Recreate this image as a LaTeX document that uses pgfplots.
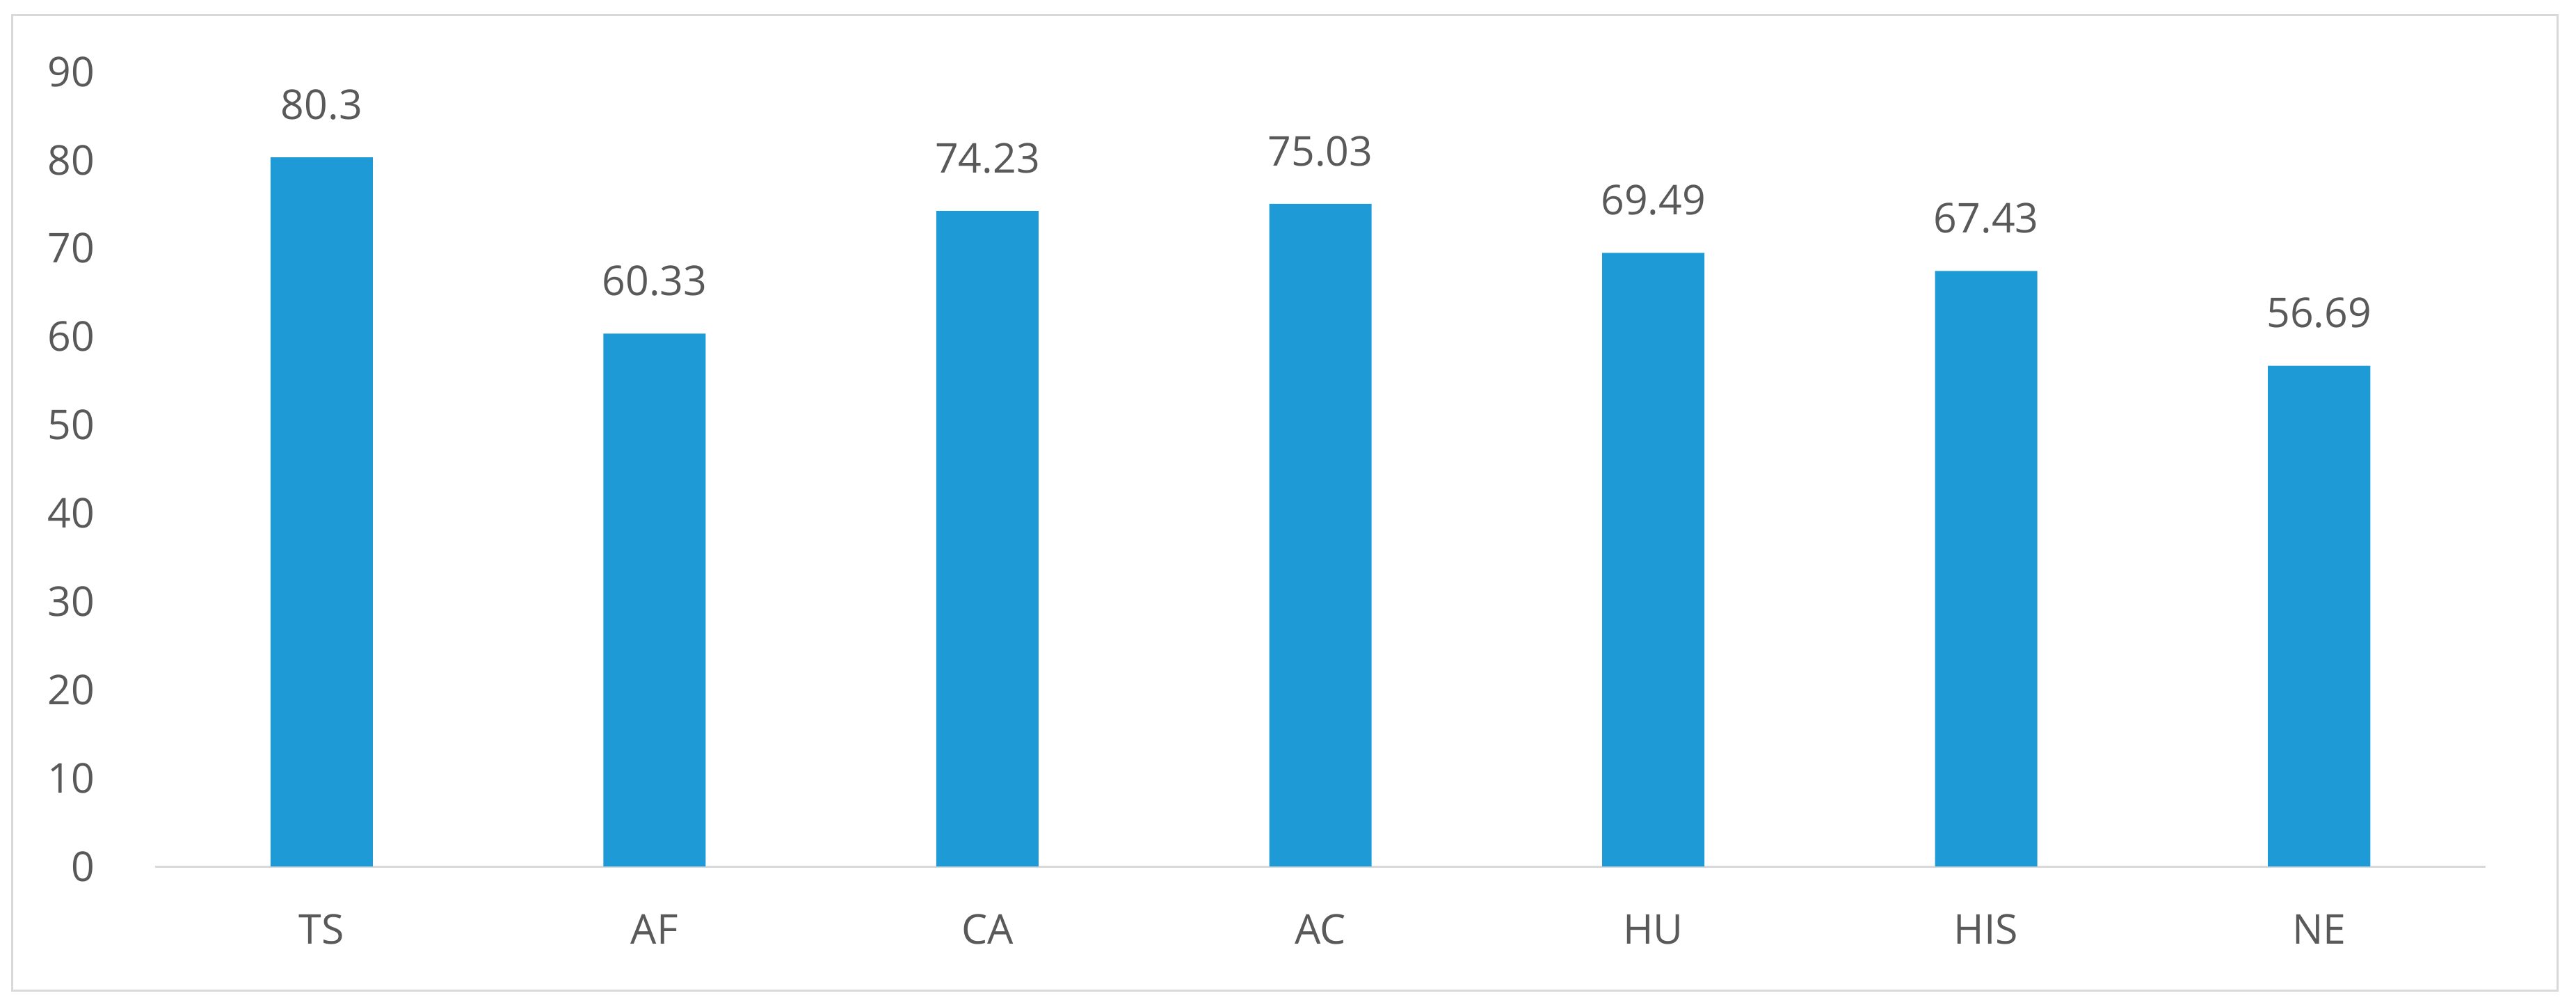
\documentclass[border=0pt]{standalone}
\usepackage{pgfplots}
\pgfplotsset{compat=1.18}
\usepackage{fontspec}
\setmainfont{Open Sans}
\definecolor{barblue}{HTML}{1E9BD7}
\definecolor{txtgray}{HTML}{595959}
\definecolor{linegray}{HTML}{D9D9D9}
\begin{document}
\begin{tikzpicture}
\fontsize{11.8}{14}\selectfont
\path[use as bounding box] (0,0) rectangle (740.6pt,289.2pt);
\draw[linegray, line width=0.6pt] (3.4pt,4.6pt) rectangle (735.2pt,284.8pt);
\begin{axis}[
  at={(44.6pt,40.2pt)}, anchor=south west,
  scale only axis, width=670pt, height=228.4pt,
  xmin=-0.5, xmax=6.5, ymin=0, ymax=90,
  xtick={0,1,2,3,4,5,6},
  xticklabels={TS,AF,CA,AC,HU,HIS,NE},
  ytick={0,10,...,90},
  axis lines*=left,
  y axis line style={draw=none},
  x axis line style={draw=linegray, line width=0.6pt, -},
  major tick length=0pt,
  tick style={draw=none},
  tick label style={font=\fontsize{11.8}{14}\selectfont, text=txtgray},
  xticklabel style={anchor=north, inner sep=0pt, yshift=-13.6pt},
  yticklabel style={anchor=east, inner sep=0pt, xshift=-17.2pt},
  /pgf/number format/assume math mode=true,
  clip=false,
]
\addplot[ybar, bar width=29.4pt, fill=barblue, draw=none,
  nodes near coords,
  point meta=explicit symbolic,
  nodes near coords style={anchor=south, inner sep=0pt, yshift=10.6pt, text=txtgray, font=\fontsize{11.8}{14}\selectfont},
] table[meta=lab] {
x y lab
0 80.3 80.3
1 60.33 60.33
2 74.23 74.23
3 75.03 75.03
4 69.49 69.49
5 67.43 67.43
6 56.69 56.69
};
\end{axis}
\end{tikzpicture}
\end{document}
